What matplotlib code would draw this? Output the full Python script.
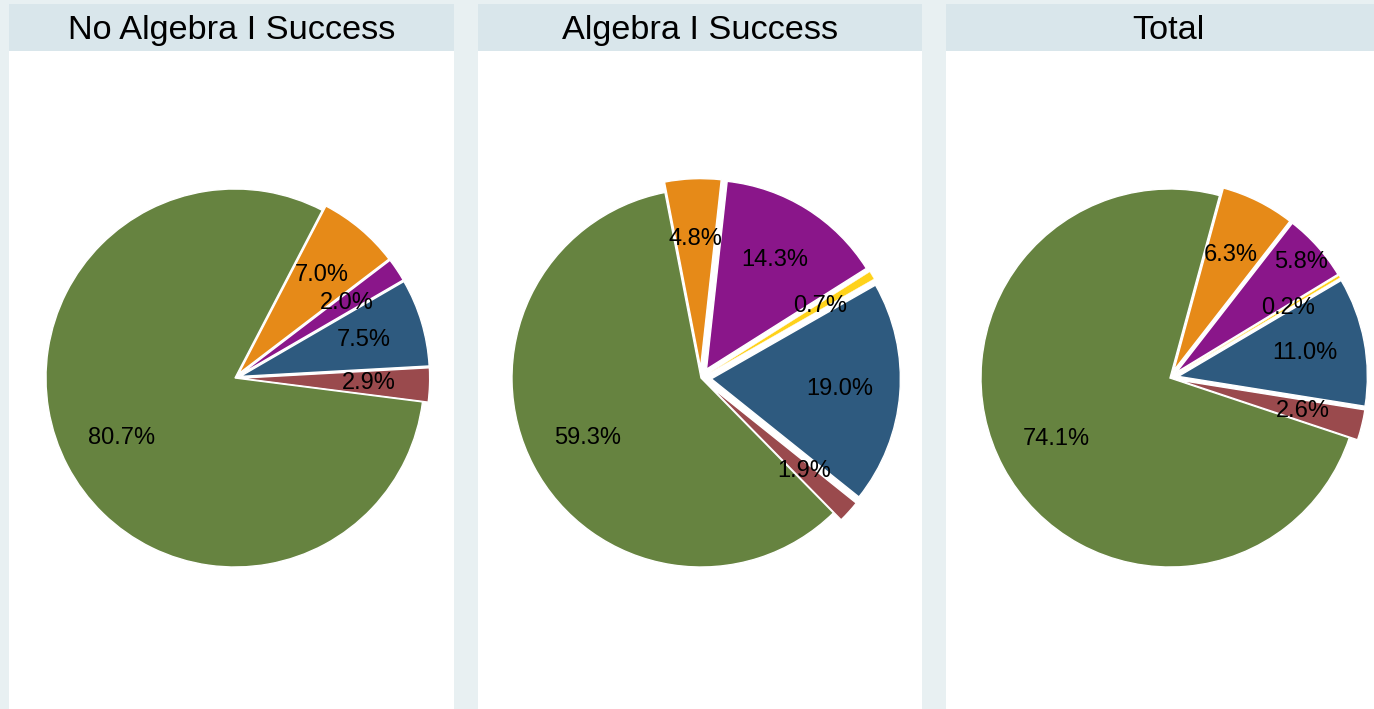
import numpy as np
import matplotlib.pyplot as plt

# pie data, in drawing order (clockwise from start angle)
titles = ["No Algebra I Success", "Algebra I Success", "Total"]
categories = ["orange", "purple", "yellow", "blue", "red", "green"]
shares = [
    [7.0, 2.0, 0.0, 7.5, 2.9, 80.7],
    [4.8, 14.3, 0.7, 19.0, 1.9, 59.3],
    [6.3, 5.8, 0.2, 11.0, 2.6, 74.1],
]

colors = {"orange": "#E68A18", "purple": "#8A168A", "yellow": "#FFD21A",
          "blue": "#2E5A7F", "red": "#9A4A4D", "green": "#668340"}
start_angles = [62.5, 101.0, 74.8]
explode_amt = [0.03, 0.055, 0.045]
# labels pushed outward to dodge a neighbour
label_dist = {(2, "purple"): 0.88}

W, H = 1374, 709
fig = plt.figure(figsize=(W / 100, H / 100), dpi=100)
fig.patch.set_facecolor("#E8F0F2")
plt.rcParams["font.family"] = ["Liberation Sans", "DejaVu Sans"]


def px_axes(x0, y0, x1, y1):
    """axes from pixel box (top-left origin)"""
    return fig.add_axes([x0 / W, 1 - y1 / H, (x1 - x0) / W, (y1 - y0) / H])


def pct_label(vals):
    total = sum(vals)
    return lambda p: f"{p * total / 100:.1f}%"


panels = [(9, 454), (478, 922), (946, 1390)]
centers = [235, 701, 1170]
cy = 378
R = 189.0
half = 260.0

for i, (x0, x1) in enumerate(panels):
    # white panel body
    body = px_axes(x0, 51, x1, H + 5)
    body.set_facecolor("white")
    body.set_xticks([])
    body.set_yticks([])
    for s in body.spines.values():
        s.set_visible(False)

    # header strip
    head = px_axes(x0, 4, x1, 51)
    head.set_facecolor("#D9E6EB")
    head.set_xticks([])
    head.set_yticks([])
    for s in head.spines.values():
        s.set_visible(False)
    head.text(0.5, 0.44, titles[i], ha="center", va="center", fontsize=24.7,
              transform=head.transAxes)

    # pie
    vals = [v for v in shares[i] if v > 0]
    cats = [c for c, v in zip(categories, shares[i]) if v > 0]
    expl = [0 if c == "green" else explode_amt[i] for c in cats]
    cx = centers[i]
    ax = px_axes(cx - half, cy - half, cx + half, cy + half)
    wedges, _, autotexts = ax.pie(
        vals, colors=[colors[c] for c in cats], explode=expl,
        startangle=start_angles[i], counterclock=False,
        autopct=pct_label(vals), pctdistance=0.68,
        wedgeprops=dict(edgecolor="white", linewidth=1.0),
        textprops=dict(fontsize=17, color="black"))
    for w, t, c, e in zip(wedges, autotexts, cats, expl):
        if c == "yellow":
            w.set_linewidth(0.3)
        if (i, c) in label_dist:
            mid = np.deg2rad((w.theta1 + w.theta2) / 2)
            d = label_dist[(i, c)] + e
            t.set_position((d * np.cos(mid), d * np.sin(mid)))
    lim = half / R
    ax.set_xlim(-lim, lim)
    ax.set_ylim(-lim, lim)
    ax.axis("off")

fig.savefig("out.png", dpi=100, facecolor=fig.get_facecolor())
